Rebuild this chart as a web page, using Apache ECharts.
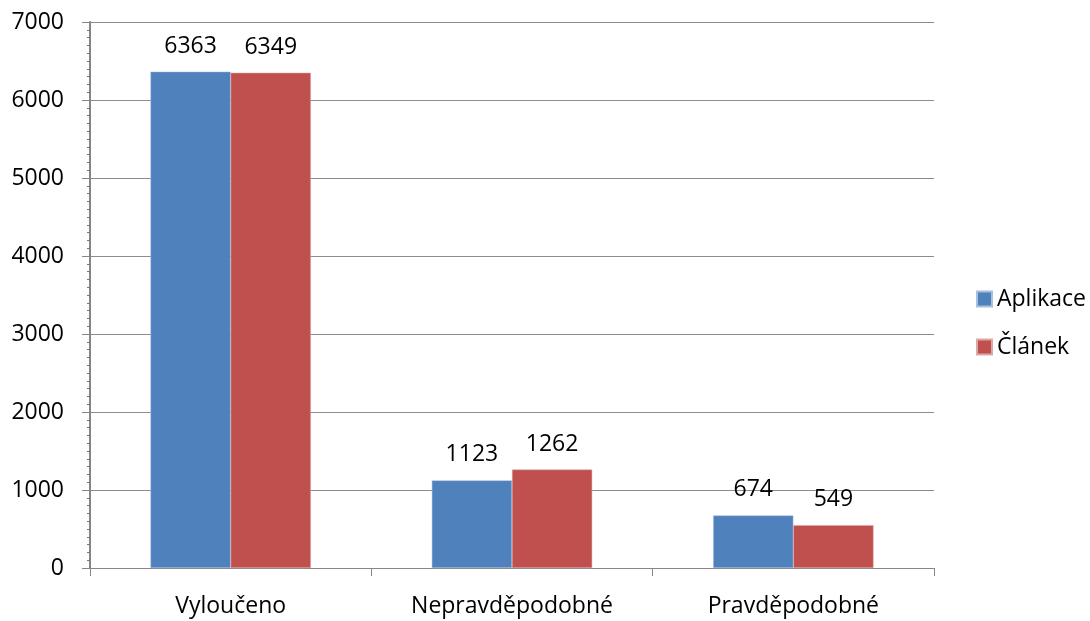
<!DOCTYPE html>
<html>
<head>
<meta charset="utf-8">
<script src="https://cdn.jsdelivr.net/npm/echarts@6/dist/echarts.min.js"></script>
<style>
  html, body { margin: 0; padding: 0; background: #fff; }
  #chart { width: 1090px; height: 621px; }
</style>
</head>
<body>
<div id="chart"></div>
<script>
// Categories and counts per source
const categories = ['Vyloučeno', 'Nepravděpodobné', 'Pravděpodobné'];
const aplikace = [6363, 1123, 674];
const clanek = [6349, 1262, 549];
const seriesNames = ['Aplikace', 'Článek'];
const yTicks = { min: 0, max: 7000, interval: 1000 };

const font = '"Open Sans", "Liberation Sans", sans-serif';
const fs = 23;
const chart = echarts.init(document.getElementById('chart'));

const labelStyle = {
  show: true,
  position: 'top',
  distance: 14,
  color: '#000',
  fontSize: fs,
  fontFamily: font
};

chart.setOption({
  animation: false,
  grid: { left: 90, top: 22, width: 844, height: 546 },
  legend: {
    orient: 'vertical',
    left: 971,
    top: 281,
    itemWidth: 15,
    itemHeight: 15,
    itemGap: 22,
    icon: 'rect',
    textStyle: { fontSize: fs, lineHeight: 26, fontFamily: font, color: '#000' },
    data: seriesNames
  },
  xAxis: {
    type: 'category',
    data: categories,
    axisLine: { lineStyle: { color: '#868686', width: 1 } },
    axisTick: { show: true, length: 8, alignWithLabel: false, lineStyle: { color: '#868686' } },
    axisLabel: { color: '#000', fontSize: fs, fontFamily: font, margin: 27 }
  },
  yAxis: {
    type: 'value',
    min: yTicks.min,
    max: yTicks.max,
    interval: yTicks.interval,
    axisLine: { show: true, lineStyle: { color: '#868686', width: 2 } },
    axisTick: { show: true, length: 8, lineStyle: { color: '#868686' } },
    minorTick: { show: true, splitNumber: 10, length: 3, lineStyle: { color: '#777' } },
    splitLine: { show: true, lineStyle: { color: '#8c8c8c', width: 1 } },
    axisLabel: {
      color: '#000', fontSize: fs, fontFamily: font, margin: 26,
      formatter: v => String(v)
    }
  },
  series: [
    {
      name: seriesNames[0],
      type: 'bar',
      data: aplikace,
      barGap: '0%',
      barCategoryGap: '43%',
      itemStyle: { color: '#4F81BD', borderColor: '#a9bfdc', borderWidth: 0.5 },
      label: labelStyle
    },
    {
      name: seriesNames[1],
      type: 'bar',
      data: clanek,
      barGap: '0%',
      barCategoryGap: '43%',
      itemStyle: { color: '#C0504D', borderColor: '#dba8a6', borderWidth: 0.5 },
      label: labelStyle
    }
  ]
});
</script>
</body>
</html>
